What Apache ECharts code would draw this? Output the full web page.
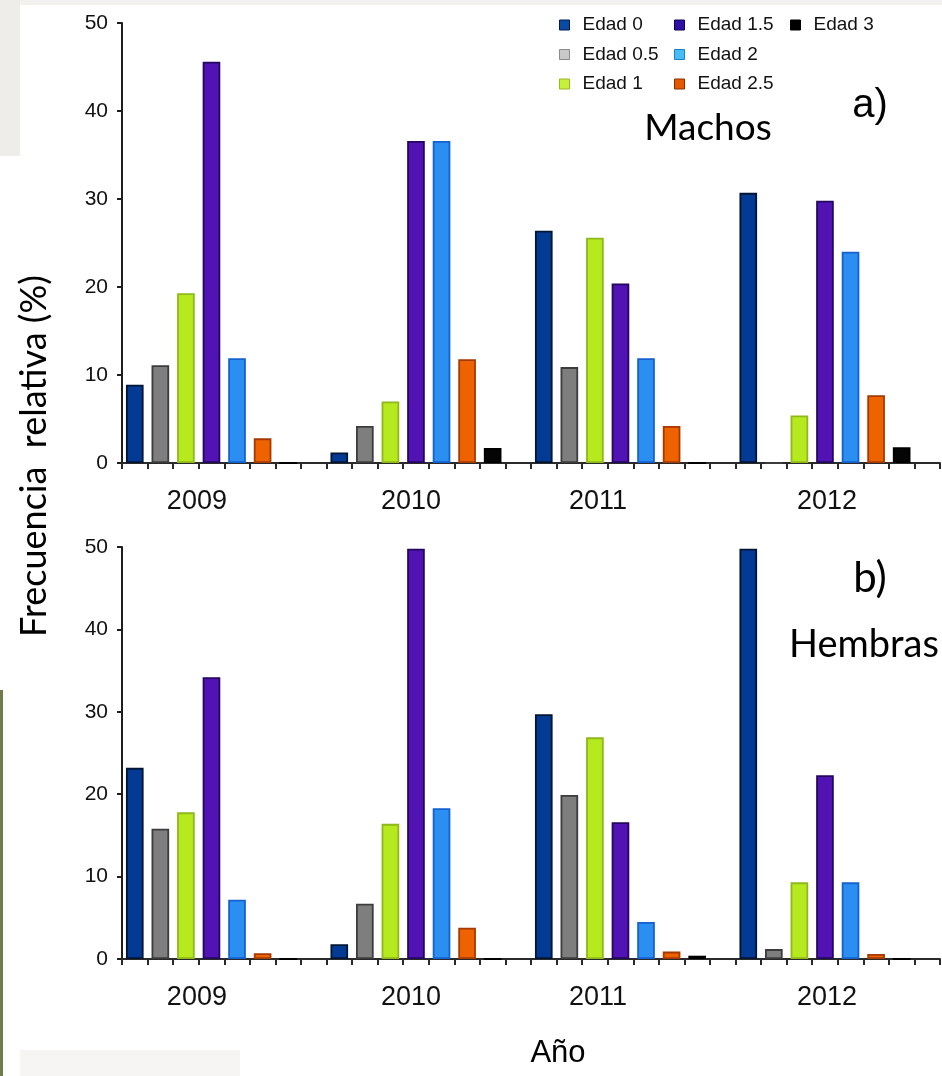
<!DOCTYPE html>
<html>
<head>
<meta charset="utf-8">
<script src="https://cdn.jsdelivr.net/npm/echarts@6/dist/echarts.min.js"></script>
<style>
html,body{margin:0;padding:0;background:#fff;}
#c{width:942px;height:1076px;}
</style>
</head>
<body>
<div id="c"></div>
<script>
// ---- data ----
const years = ['2009', '2010', '2011', '2012'];
const ages = ['Edad 0', 'Edad 0.5', 'Edad 1', 'Edad 1.5', 'Edad 2', 'Edad 2.5', 'Edad 3'];
const yTicks = [0, 10, 20, 30, 40, 50];

// Machos (a)
const machosEdad0  = [8.9, 1.2, 26.4, 30.7];
const machosEdad05 = [11.1, 4.2, 10.9, 0];
const machosEdad1  = [19.3, 7.0, 25.6, 5.4];
const machosEdad15 = [45.6, 36.6, 20.4, 29.8];
const machosEdad2  = [11.9, 36.6, 11.9, 24.0];
const machosEdad25 = [2.8, 11.8, 4.2, 7.7];
const machosEdad3  = [0, 1.7, 0, 1.8];

// Hembras (b)
const hembrasEdad0  = [23.2, 1.8, 29.7, 49.8];
const hembrasEdad05 = [15.8, 6.7, 19.9, 1.2];
const hembrasEdad1  = [17.8, 16.4, 26.9, 9.3];
const hembrasEdad15 = [34.2, 49.8, 16.6, 22.3];
const hembrasEdad2  = [7.2, 18.3, 4.5, 9.3];
const hembrasEdad25 = [0.7, 3.8, 0.9, 0.6];
const hembrasEdad3  = [0, 0, 0.4, 0];

const machos = [machosEdad0, machosEdad05, machosEdad1, machosEdad15, machosEdad2, machosEdad25, machosEdad3];
const hembras = [hembrasEdad0, hembrasEdad05, hembrasEdad1, hembrasEdad15, hembrasEdad2, hembrasEdad25, hembrasEdad3];

// ---- styles ----
const fills   = ['#033a94', '#7e7e7e', '#b6ea1f', '#5113b3', '#2b8ff2', '#ef6200', '#050505'];
const borders = ['#001634', '#3c3c3c', '#8fb81a', '#24075e', '#1462d0', '#a53a00', '#000000'];
const legendFills   = ['#0b4aa2', '#c9c9c9', '#c6f03c', '#2e10a6', '#46bdf6', '#e45800', '#000000'];
const legendBorders = ['#001a50', '#8a8a8a', '#98b820', '#10004e', '#1f7fc0', '#8c2e00', '#000000'];

const slotsPerYear = ages.length + 1;
const categories = [];
years.forEach(y => { for (let i = 0; i < slotsPerYear; i++) categories.push(y + '_' + i); });
const labelSlots = [2, 11, 18, 27];
const labelPad = [[0,0,0,22],[0,10,0,0],[0,0,0,6],[0,0,0,4]];

function slotData(vals, ageIdx) {
  const d = categories.map(() => '-');
  vals.forEach((v, yi) => { d[yi * slotsPerYear + ageIdx] = v; });
  return d;
}

const rich = {};
labelPad.forEach((p, k) => { rich['y' + k] = { fontSize: 27, fontFamily: 'Liberation Sans, Arial', color: '#111', padding: p }; });

function xAxis(gi) {
  return {
    type: 'category', gridIndex: gi, data: categories, boundaryGap: true,
    axisLine: { lineStyle: { color: '#2a2a2a', width: 2 } },
    axisTick: { show: true, interval: 0, length: 6, lineStyle: { color: '#2a2a2a', width: 2 } },
    axisLabel: {
      interval: (idx) => labelSlots.indexOf(idx) >= 0,
      margin: 25,
      formatter: (v, idx) => { const k = labelSlots.indexOf(idx); return k >= 0 ? '{y' + k + '|' + years[k] + '}' : ''; },
      rich: rich
    },
    splitLine: { show: false }
  };
}
function yAxis(gi) {
  return {
    type: 'value', gridIndex: gi, min: yTicks[0], max: yTicks[yTicks.length - 1], interval: 10,
    axisLine: { show: true, lineStyle: { color: '#1e1e1e', width: 2 } },
    axisTick: { show: true, length: 5, lineStyle: { color: '#1e1e1e', width: 2 } },
    axisLabel: { fontSize: 21, fontFamily: 'Liberation Sans, Arial', color: '#111', margin: 14 },
    splitLine: { show: false }
  };
}

const series = [];
[machos, hembras].forEach((set, gi) => {
  set.forEach((vals, ai) => {
    series.push({
      name: ages[ai], type: 'bar', xAxisIndex: gi, yAxisIndex: gi,
      stack: 'g' + gi, barWidth: '69%',
      data: slotData(vals, ai),
      itemStyle: { color: fills[ai], borderColor: borders[ai], borderWidth: 1.8 },
      emphasis: { disabled: true }
    });
  });
});

function legendCol(names, left) {
  return {
    orient: 'vertical', left: left, top: 10, itemWidth: 10, itemHeight: 10, itemGap: 9.5,
    icon: 'rect', selectedMode: false,
    textStyle: { fontSize: 19, fontFamily: 'Liberation Sans, Arial', color: '#111', padding: [0,0,0,8], lineHeight: 20 },
    data: names.map(n => { const i = ages.indexOf(n); return { name: n, itemStyle: { color: legendFills[i], borderColor: legendBorders[i], borderWidth: 1 } }; })
  };
}

const chart = echarts.init(document.getElementById('c'));
chart.setOption({
  animation: false,
  backgroundColor: '#ffffff',
  grid: [
    { left: 122, top: 23, width: 818, height: 440, containLabel: false },
    { left: 122, top: 547, width: 818, height: 412, containLabel: false }
  ],
  xAxis: [xAxis(0), xAxis(1)],
  yAxis: [yAxis(0), yAxis(1)],
  legend: [
    legendCol(ages.slice(0, 3), 554),
    legendCol(ages.slice(3, 6), 669),
    legendCol(ages.slice(6), 785)
  ],
  graphic: [
    { type: 'rect', left: 0, top: 0, shape: { width: 942, height: 5 }, style: { fill: '#f3f1ee' }, z: -10 },
    { type: 'rect', left: 0, top: 0, shape: { width: 20, height: 156 }, style: { fill: '#efedea' }, z: -10 },
    { type: 'rect', left: 0, top: 690, shape: { width: 3, height: 386 }, style: { fill: '#6e7d46' }, z: -10 },
    { type: 'rect', left: 20, top: 1050, shape: { width: 220, height: 26 }, style: { fill: '#f6f5f3' }, z: -10 },
    { type: 'text', x: 34, y: 456, rotation: Math.PI / 2, style: { text: 'Frecuencia  relativa (%)', font: '36px Lato, "Open Sans", sans-serif', fill: '#000', align: 'center', verticalAlign: 'middle' } },
    { type: 'text', x: 558, y: 1053, style: { text: 'Año', font: '31px "Liberation Sans", Arial', fill: '#000', align: 'center', verticalAlign: 'middle' } },
    { type: 'text', x: 870, y: 106, style: { text: 'a)', font: '40px "Liberation Sans", Arial', fill: '#000', align: 'center', verticalAlign: 'middle' } },
    { type: 'text', x: 708, y: 128, style: { text: 'Machos', font: '37px Lato, "Open Sans", sans-serif', fill: '#000', align: 'center', verticalAlign: 'middle' } },
    { type: 'text', x: 870, y: 578, style: { text: 'b)', font: '42px Lato, "Open Sans", sans-serif', fill: '#000', align: 'center', verticalAlign: 'middle' } },
    { type: 'text', x: 864, y: 645, style: { text: 'Hembras', font: '38px Lato, "Open Sans", sans-serif', fill: '#000', align: 'center', verticalAlign: 'middle' } }
  ],
  series: series
});
</script>
</body>
</html>
